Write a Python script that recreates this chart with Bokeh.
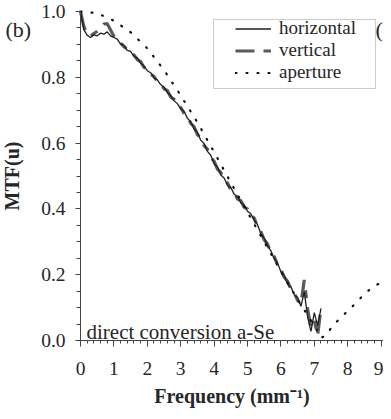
from bokeh.plotting import figure
from bokeh.models import (FixedTicker, PrintfTickFormatter, Legend, LegendItem,
                          Label, BoxAnnotation, Range1d)
from bokeh.embed import file_html
from bokeh.resources import INLINE

# ---- data ----
freq = [0.0, 0.1, 0.2, 0.3, 0.4, 0.5, 0.6, 0.7, 0.8, 0.9,
        1.0, 1.1, 1.2, 1.3, 1.4, 1.5, 1.6, 1.7, 1.8, 1.9,
        2.0, 2.1, 2.2, 2.3, 2.4, 2.5, 2.6, 2.7, 2.8, 2.9,
        3.0, 3.1, 3.2, 3.3, 3.4, 3.5, 3.6, 3.7, 3.8, 3.9,
        4.0, 4.1, 4.2, 4.3, 4.4, 4.5, 4.6, 4.7, 4.8, 4.9,
        5.0, 5.1, 5.2, 5.3, 5.4, 5.5, 5.6, 5.7, 5.8, 5.9,
        6.0, 6.1, 6.2, 6.3, 6.4, 6.5, 6.6, 6.7, 6.8, 6.9,
        7.0, 7.1, 7.2]

mtf_horizontal = [1.000, 0.945, 0.928, 0.921, 0.929, 0.926, 0.934, 0.931, 0.938, 0.926,
                  0.921, 0.916, 0.901, 0.898, 0.882, 0.879, 0.864, 0.859, 0.843, 0.835,
                  0.820, 0.814, 0.798, 0.792, 0.778, 0.770, 0.754, 0.745, 0.729, 0.720,
                  0.704, 0.697, 0.676, 0.665, 0.643, 0.633, 0.609, 0.599, 0.575, 0.563,
                  0.537, 0.528, 0.503, 0.494, 0.472, 0.465, 0.445, 0.437, 0.419, 0.412,
                  0.393, 0.385, 0.366, 0.352, 0.325, 0.311, 0.287, 0.273, 0.249, 0.236,
                  0.209, 0.198, 0.172, 0.163, 0.139, 0.131, 0.104, 0.148, 0.072, 0.028,
                  0.085, 0.045, 0.098]

mtf_vertical = [1.000, 0.955, 0.932, 0.925, 0.933, 0.940, 0.950, 0.962, 0.963, 0.944,
                0.925, 0.911, 0.905, 0.893, 0.886, 0.873, 0.868, 0.854, 0.848, 0.830,
                0.825, 0.809, 0.803, 0.787, 0.783, 0.765, 0.760, 0.740, 0.734, 0.716,
                0.709, 0.690, 0.681, 0.660, 0.650, 0.626, 0.616, 0.592, 0.582, 0.557,
                0.545, 0.521, 0.511, 0.488, 0.479, 0.458, 0.451, 0.430, 0.425, 0.405,
                0.400, 0.380, 0.372, 0.346, 0.331, 0.306, 0.293, 0.268, 0.255, 0.230,
                0.216, 0.192, 0.180, 0.156, 0.145, 0.122, 0.112, 0.184, 0.095, 0.040,
                0.060, 0.015, 0.100]

aperture_freq = [0.0, 0.5, 1.0, 1.5, 2.0, 2.5, 3.0, 3.5, 4.0, 4.5, 5.0, 5.5, 6.0,
                 6.5, 7.0, 7.2, 7.35, 7.55, 7.75, 8.0, 8.25, 8.5, 8.8, 9.1]
aperture_mtf = [1.000, 0.995, 0.972, 0.937, 0.888, 0.822, 0.745, 0.663, 0.573,
                0.480, 0.390, 0.300, 0.210, 0.125, 0.045, 0.008, 0.015, 0.045,
                0.065, 0.090, 0.114, 0.142, 0.166, 0.180]

x_ticks = [0, 1, 2, 3, 4, 5, 6, 7, 8, 9]
x_minor = [0.0, 0.2, 0.4, 0.6, 0.8, 1.0, 1.2, 1.4, 1.6, 1.8, 2.0, 2.2, 2.4, 2.6,
           2.8, 3.0, 3.2, 3.4, 3.6, 3.8, 4.0, 4.2, 4.4, 4.6, 4.8, 5.0, 5.2, 5.4,
           5.6, 5.8, 6.0, 6.2, 6.4, 6.6, 6.8, 7.0, 7.2, 7.4, 7.6, 7.8, 8.0, 8.2,
           8.4, 8.6, 8.8, 9.0]
y_ticks = [0.0, 0.2, 0.4, 0.6, 0.8, 1.0]
y_minor = [0.0, 0.05, 0.1, 0.15, 0.2, 0.25, 0.3, 0.35, 0.4, 0.45, 0.5, 0.55,
           0.6, 0.65, 0.7, 0.75, 0.8, 0.85, 0.9, 0.95, 1.0]
series_labels = ["horizontal", "vertical", "aperture"]

SERIF = "Liberation Serif"
INK = "#262626"

# canvas geometry: the plot frame covers the whole canvas, axes are fixed at 0
W, H = 383, 411
X_PX = 33.4          # px per mm^-1
X0 = 80              # canvas x of frequency 0
Y_PX = 329.0         # px per unit MTF
Y0 = 340             # canvas y of MTF 0
x_start = -X0 / X_PX
x_end = x_start + W / X_PX
y_end = Y0 / Y_PX
y_start = -(H - Y0) / Y_PX

p = figure(width=W, height=H, output_backend="svg", toolbar_location=None,
           x_range=Range1d(x_start, x_end), y_range=Range1d(y_start, y_end),
           min_border_left=0, min_border_right=0, min_border_top=0,
           min_border_bottom=0)
p.grid.visible = False
p.outline_line_color = None
p.background_fill_color = "white"

r_v = p.line(freq, mtf_vertical, line_color="#5a5a5a", line_width=3.2,
             line_dash="19 9 8 9")
r_h = p.line(freq, mtf_horizontal, line_color="#1e1e1e", line_width=1.3)
r_a = p.line(aperture_freq, aperture_mtf, line_color="#111111", line_width=2.2,
             line_dash="1 10", line_cap="round")

# axes
xa = p.xaxis[0]
xa.fixed_location = 0
xa.ticker = FixedTicker(ticks=x_ticks, minor_ticks=x_minor)
xa.bounds = (0, x_end)
xa.axis_label = "Frequency (mm\u207b\u00b9)"
ya = p.yaxis[0]
ya.fixed_location = 0
ya.bounds = (0, 1.0)
ya.ticker = FixedTicker(ticks=y_ticks, minor_ticks=y_minor)
ya.formatter = PrintfTickFormatter(format="%.1f")
ya.axis_label = "MTF(u)"

for ax in (xa, ya):
    ax.axis_line_color = "#444444"
    ax.axis_line_width = 1
    ax.major_tick_line_color = "#444444"
    ax.minor_tick_line_color = "#444444"
    ax.major_tick_in = 0
    ax.minor_tick_in = 0
    ax.major_label_text_font = SERIF
    ax.major_label_text_font_size = "19.5px"
    ax.major_label_text_color = INK
    ax.axis_label_text_font = SERIF
    ax.axis_label_text_font_style = "bold"
    ax.axis_label_text_font_size = "20px"
    ax.axis_label_text_color = INK

xa.major_tick_out = 6
xa.minor_tick_out = 3
xa.major_label_standoff = 15
xa.axis_label_standoff = 7
ya.major_tick_out = 5
ya.minor_tick_out = 4
ya.major_label_standoff = 10
ya.axis_label_standoff = 15

# legend frame (screen px relative to the plot frame, y from its bottom)
box = BoxAnnotation(left=213, right=375, bottom=323, top=392,
                    left_units="screen", right_units="screen",
                    bottom_units="screen", top_units="screen",
                    fill_color=None, fill_alpha=0, line_color="#555555",
                    line_width=1)
p.add_layout(box)

legend = Legend(items=[LegendItem(label=series_labels[0], renderers=[r_h]),
                       LegendItem(label=series_labels[1], renderers=[r_v]),
                       LegendItem(label=series_labels[2], renderers=[r_a])],
                location=(235, 328), padding=0, margin=0, spacing=-2,
                glyph_width=36, glyph_height=19, label_standoff=8,
                label_text_font=SERIF, label_text_font_size="19px",
                label_text_color=INK, border_line_alpha=0,
                background_fill_alpha=0)
p.add_layout(legend)

# texts
p.add_layout(Label(x=86, y=80, x_units="screen", y_units="screen",
                   text="direct conversion a-Se", text_font=SERIF,
                   text_font_size="21px", text_color=INK,
                   text_baseline="alphabetic"))
p.add_layout(Label(x=5, y=382, x_units="screen", y_units="screen",
                   text="(b)", text_font=SERIF, text_font_size="22px",
                   text_color=INK, text_baseline="alphabetic"))
p.add_layout(Label(x=375, y=382, x_units="screen", y_units="screen",
                   text="(", text_font=SERIF, text_font_size="22px",
                   text_color=INK, text_baseline="alphabetic"))

open("out.html", "w").write(file_html(p, INLINE))
